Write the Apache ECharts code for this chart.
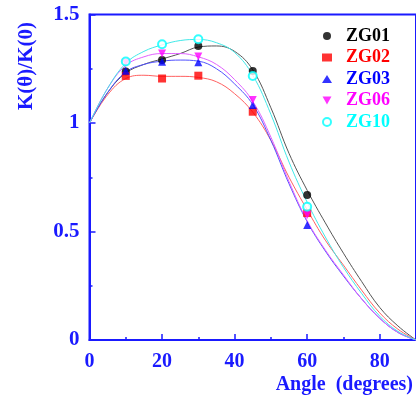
<!DOCTYPE html>
<html>
<head>
<meta charset="utf-8">
<script src="https://cdn.jsdelivr.net/npm/echarts@6/dist/echarts.min.js"></script>
<style>
  html, body { margin: 0; padding: 0; background: #fff; }
  #main { width: 416px; height: 401px; }
</style>
</head>
<body>
<div id="main"></div>
<script>
// fitted curves, read every 5 degrees
var angles = [0, 5, 10, 15, 20, 25, 30, 35, 40, 45, 50, 55, 60, 65, 70, 75, 80, 85, 90];
var fitZG01 = [1, 1.14, 1.23, 1.27, 1.295, 1.32, 1.35, 1.355, 1.33, 1.245, 1.07, 0.86, 0.69, 0.54, 0.40, 0.27, 0.15, 0.065, 0];
var fitZG02 = [1, 1.13, 1.205, 1.22, 1.215, 1.215, 1.21, 1.19, 1.135, 1.05, 0.92, 0.75, 0.60, 0.46, 0.345, 0.23, 0.125, 0.05, 0];
var fitZG03 = [1, 1.14, 1.235, 1.27, 1.285, 1.29, 1.285, 1.25, 1.18, 1.085, 0.92, 0.72, 0.545, 0.41, 0.295, 0.19, 0.10, 0.035, 0];
var fitZG06 = [1, 1.16, 1.265, 1.305, 1.32, 1.32, 1.305, 1.27, 1.20, 1.10, 0.935, 0.73, 0.55, 0.415, 0.30, 0.19, 0.10, 0.035, 0];
var fitZG10 = [1, 1.16, 1.275, 1.33, 1.36, 1.38, 1.385, 1.37, 1.325, 1.22, 1.04, 0.82, 0.635, 0.475, 0.335, 0.215, 0.11, 0.04, 0];

// measured points
var pointAngles = [10, 20, 30, 45, 60];
var ZG01 = [1.237, 1.29, 1.355, 1.24, 0.668];
var ZG02 = [1.217, 1.205, 1.218, 1.052, 0.585];
var ZG03 = [1.241, 1.282, 1.28, 1.083, 0.53];
var ZG06 = [1.278, 1.32, 1.306, 1.106, 0.576];
var ZG10 = [1.283, 1.363, 1.386, 1.217, 0.614];

var names = ['ZG01', 'ZG02', 'ZG03', 'ZG06', 'ZG10'];
var pointColors = ['#000000', '#ff0000', '#0000ff', '#ff00ff', '#00ffff'];
var lineColors = ['#555555', '#ff6060', '#5050ff', '#e060ff', '#40e8e8'];
var downTriangle = 'path://M0,0 L10,0 L5,9 Z';
var symbols = ['circle', 'rect', 'triangle', downTriangle, 'emptyCircle'];

var fits = [fitZG01, fitZG02, fitZG03, fitZG06, fitZG10];
var points = [ZG01, ZG02, ZG03, ZG06, ZG10];

function pairs(xs, ys) {
    var out = [];
    for (var i = 0; i < xs.length; i++) out.push([xs[i], ys[i]]);
    return out;
}

var axisBlue = '#1a1aff';
var serif = '"Liberation Serif", "DejaVu Serif", serif';

var series = [];
names.forEach(function (n, i) {
    series.push({
        name: n + ' fit',
        type: 'line',
        data: pairs(angles, fits[i]),
        smooth: 0.4,
        showSymbol: false,
        z: 2,
        lineStyle: { color: lineColors[i], width: 1 },
        itemStyle: { color: lineColors[i] },
        silent: true
    });
});
names.forEach(function (n, i) {
    series.push({
        name: n,
        type: 'scatter',
        data: pairs(pointAngles, points[i]),
        symbol: symbols[i],
        symbolSize: 8,
        z: 5,
        itemStyle: symbols[i] === 'emptyCircle'
            ? { color: pointColors[i], borderColor: pointColors[i], borderWidth: 1.2 }
            : { color: pointColors[i] }
    });
});

var dom = document.getElementById('main');
var myChart = echarts.init(dom);

var option = {
    animation: false,
    backgroundColor: '#ffffff',
    grid: {
        left: 89.5, right: -1, top: 14.5, bottom: 61,
        show: true, borderColor: axisBlue, borderWidth: 2, backgroundColor: 'transparent'
    },
    legend: {
        orient: 'vertical',
        left: 317,
        top: 22,
        itemWidth: 10,
        itemHeight: 8,
        itemGap: 3.5,
        data: names.map(function (n, i) {
            return { name: n, textStyle: { color: pointColors[i] } };
        }),
        textStyle: {
            fontFamily: serif, fontWeight: 'bold', fontSize: 18,
            lineHeight: 18, padding: [0, 0, 0, 9]
        }
    },
    xAxis: {
        type: 'value',
        min: 0, max: 90, interval: 20,
        axisLine: { show: true, lineStyle: { color: axisBlue, width: 2 } },
        axisTick: { show: true, inside: true, length: 6, lineStyle: { color: axisBlue, width: 1.5 } },
        minorTick: { show: true, splitNumber: 2, length: 3, lineStyle: { color: axisBlue, width: 1.5 } },
        splitLine: { show: false },
        axisLabel: {
            color: axisBlue, fontFamily: serif, fontWeight: 'bold', fontSize: 20, margin: 12,
            showMaxLabel: false
        }
    },
    yAxis: {
        type: 'value',
        min: 0, max: 1.5, interval: 0.5,
        axisLine: { show: true, lineStyle: { color: axisBlue, width: 2 } },
        axisTick: { show: true, inside: true, length: 6, lineStyle: { color: axisBlue, width: 1.5 } },
        minorTick: { show: true, splitNumber: 2, length: 3, lineStyle: { color: axisBlue, width: 1.5 } },
        splitLine: { show: false },
        axisLabel: {
            color: axisBlue, fontFamily: serif, fontWeight: 'bold', fontSize: 21, margin: 10
        }
    },
    graphic: [
        {
            type: 'text',
            x: 27, y: 66,
            rotation: Math.PI / 2,
            style: {
                text: 'K(θ)/K(0)',
                fill: axisBlue,
                font: 'bold 21px ' + serif,
                align: 'center',
                verticalAlign: 'middle'
            }
        },
        {
            type: 'text',
            x: 413, y: 385,
            style: {
                text: 'Angle  (degrees)',
                fill: axisBlue,
                font: 'bold 20px ' + serif,
                align: 'right',
                verticalAlign: 'middle'
            }
        }
    ],
    series: series
};

myChart.setOption(option, true);
</script>
</body>
</html>
